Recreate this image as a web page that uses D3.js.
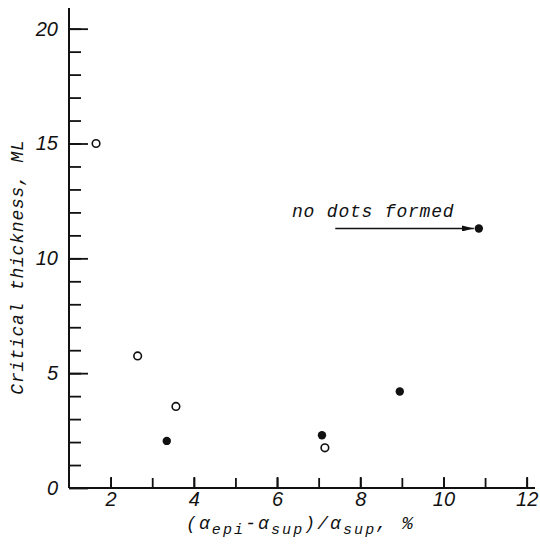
<!DOCTYPE html>
<html>
<head>
<meta charset="utf-8">
<script src="https://cdn.jsdelivr.net/npm/d3@7"></script>
<style>
  body { margin: 0; background: #fff; }
  .tick text { font-family: "Liberation Sans Narrow", "Liberation Sans", Arial, sans-serif; font-style: italic; font-size: 20px; fill: #111; }
  .title { font-family: "Liberation Mono", "DejaVu Sans Mono", monospace; font-style: italic; font-size: 18px; letter-spacing: 0.8px; fill: #111; }
</style>
</head>
<body>
<script>
// open circles
const openX = [1.65, 2.65, 3.57, 7.15];
const openY = [15, 5.75, 3.55, 1.75];
// filled circles
const filledX = [3.35, 7.08, 8.95, 10.85];
const filledY = [2.05, 2.3, 4.2, 11.3];

const xTicks = [2, 4, 6, 8, 10, 12];
const yTicks = [0, 5, 10, 15, 20];
const note = 'no dots formed';

const width = 540;
const height = 549;

const svg = d3.select('body').append('svg')
    .attr('width', width)
    .attr('height', height);

// axes start at x = 1 and y = 0
const x = d3.scaleLinear().domain([1, 12.2]).range([69, 535]);
const y = d3.scaleLinear().domain([0, 20.9]).range([488, 8]);

// minor ticks
svg.append('g')
    .attr('transform', `translate(0, ${y(0)})`)
    .call(d3.axisBottom(x).tickValues(d3.range(2, 13)).tickSize(-10).tickFormat(''));

svg.append('g')
    .attr('transform', `translate(${x(1)}, 0)`)
    .call(d3.axisLeft(y).tickValues(d3.range(1, 21)).tickSize(-12).tickFormat(''));

// major ticks with labels
svg.append('g')
    .attr('transform', `translate(0, ${y(0)})`)
    .call(d3.axisBottom(x).tickValues(xTicks).tickSize(-11).tickPadding(4).tickFormat(d3.format('d')));

svg.append('g')
    .attr('transform', `translate(${x(1)}, 0)`)
    .call(d3.axisLeft(y).tickValues(yTicks).tickSize(-19).tickPadding(11).tickFormat(d3.format('d')));

svg.selectAll('.domain, .tick line')
    .attr('stroke', '#111')
    .attr('stroke-width', 1.8);
svg.selectAll('.domain').attr('d', null);

// axis lines drawn by hand so they run the full length
svg.append('line')
    .attr('x1', x(1)).attr('x2', x(12.2))
    .attr('y1', y(0)).attr('y2', y(0))
    .attr('stroke', '#111').attr('stroke-width', 2);
svg.append('line')
    .attr('x1', x(1)).attr('x2', x(1))
    .attr('y1', y(0)).attr('y2', y(20.9))
    .attr('stroke', '#111').attr('stroke-width', 2);

// points
svg.selectAll('.open')
  .data(openX.map((d, i) => [d, openY[i]]))
  .enter().append('circle')
    .attr('class', 'open')
    .attr('cx', d => x(d[0]))
    .attr('cy', d => y(d[1]))
    .attr('r', 3.8)
    .attr('fill', '#fff')
    .attr('stroke', '#111')
    .attr('stroke-width', 1.6);

svg.selectAll('.filled')
  .data(filledX.map((d, i) => [d, filledY[i]]))
  .enter().append('circle')
    .attr('class', 'filled')
    .attr('cx', d => x(d[0]))
    .attr('cy', d => y(d[1]))
    .attr('r', 4.2)
    .attr('fill', '#111');

// annotation with arrow to last filled point
svg.append('defs').append('marker')
    .attr('id', 'head')
    .attr('viewBox', '0 0 12 6')
    .attr('refX', 12).attr('refY', 3)
    .attr('markerWidth', 12).attr('markerHeight', 6)
    .attr('markerUnits', 'userSpaceOnUse')
    .attr('orient', 'auto')
  .append('path')
    .attr('d', 'M0,0L12,3L0,6Z')
    .attr('fill', '#111');

const tip = [filledX[3], filledY[3]];
svg.append('line')
    .attr('x1', x(7.4)).attr('x2', x(tip[0]) - 5)
    .attr('y1', y(tip[1])).attr('y2', y(tip[1]))
    .attr('stroke', '#111').attr('stroke-width', 1.3)
    .attr('marker-end', 'url(#head)');

svg.append('text')
    .attr('class', 'title')
    .attr('x', 292)
    .attr('y', y(tip[1]) - 11)
    .text(note);

// axis titles
svg.append('text')
    .attr('class', 'title')
    .attr('transform', 'translate(23, 267) rotate(-90)')
    .attr('text-anchor', 'middle')
    .text('Critical thickness, ML');

const xt = svg.append('text')
    .attr('class', 'title')
    .attr('x', 186)
    .attr('y', 529)
    .style('letter-spacing', '2.1px');
xt.append('tspan').text('(α');
xt.append('tspan').attr('dy', 5).attr('font-size', 15).text('epi');
xt.append('tspan').attr('dy', -5).text('-α');
xt.append('tspan').attr('dy', 5).attr('font-size', 15).text('sup');
xt.append('tspan').attr('dy', -5).text(')/α');
xt.append('tspan').attr('dy', 5).attr('font-size', 15).text('sup');
xt.append('tspan').attr('dy', -5).text(', %');
</script>
</body>
</html>
